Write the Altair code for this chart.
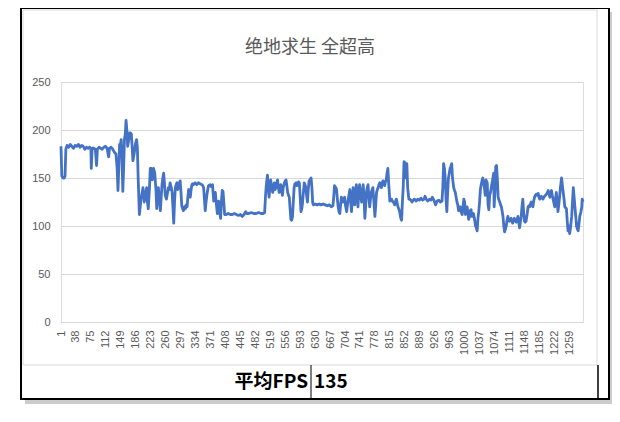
import altair as alt
import pandas as pd

title_text = "绝地求生 全超高"
table_label = "平均FPS"
table_value = "135"

y_ticks = [0, 50, 100, 150, 200, 250]
x_tick_labels = [1, 38, 75, 112, 149, 186, 223, 260, 297, 334, 371, 408, 445, 482,
                 519, 556, 593, 630, 667, 704, 741, 778, 815, 852, 889, 926, 963,
                 1000, 1037, 1074, 1111, 1148, 1185, 1222, 1259]

frames_a = [1, 3, 6, 9, 11, 13, 16, 20, 24, 28, 32, 36, 40, 44, 48, 52, 56, 60, 64, 68,
            72, 75, 76, 78, 82, 86, 89, 91, 95, 99, 103, 107, 111, 115, 119, 121, 125,
            129, 133, 137, 140, 142, 144, 146, 148, 150, 152, 154, 156, 158, 160, 162,
            164, 166, 168, 171, 173, 175, 177, 179, 182, 185, 188, 190, 192, 195, 197,
            199, 202, 204, 207, 210, 213, 215, 217, 220, 222, 224, 227, 230, 233, 236,
            238, 240, 242, 245, 247, 249, 251, 253, 255, 257, 259, 262, 264, 267, 269,
            271, 274, 276, 278, 280, 282, 284, 286, 288, 290, 292, 294, 296, 298, 300,
            302, 304, 307, 309, 311, 313, 315, 317, 319, 321, 323, 325, 327, 329, 333,
            337, 341, 345, 350, 352, 354, 356, 358, 360, 363, 366, 370, 373, 376, 378,
            379, 381, 383, 385, 388, 390, 391, 394, 396, 398, 400, 402, 404, 406, 410]
fps_a = [183, 152, 150, 150, 152, 180, 184, 182, 185, 183, 181, 184, 183, 185, 182, 184,
         183, 180, 182, 181, 182, 180, 160, 181, 181, 180, 163, 180, 182, 181, 180, 182,
         183, 181, 172, 181, 182, 180, 177, 175, 160, 137, 160, 185, 185, 190, 170, 136,
         160, 190, 195, 210, 200, 183, 188, 197, 197, 196, 183, 168, 175, 185, 190, 182,
         150, 112, 120, 128, 135, 140, 125, 132, 140, 125, 118, 140, 160, 160, 148, 160,
         155, 138, 118, 130, 140, 125, 116, 130, 143, 150, 155, 145, 132, 128, 133, 140,
         138, 145, 140, 135, 120, 103, 125, 140, 143, 145, 138, 140, 145, 147, 135, 121,
         118, 116, 120, 118, 122, 120, 130, 138, 133, 130, 138, 143, 144, 143, 145, 143,
         145, 144, 143, 142, 140, 128, 116, 125, 135, 142, 143, 141, 143, 132, 126, 130,
         135, 125, 113, 122, 126, 115, 108, 125, 137, 136, 125, 112, 112]

frames_b = [415, 420, 425, 430, 435, 440, 445, 450, 454, 458, 461, 466, 472, 478, 484,
            490, 496, 502, 505, 507, 509, 512, 514, 516, 518, 520, 522, 525, 527, 529,
            531, 533, 535, 537, 539, 541, 543, 545, 547, 549, 551, 554, 556, 558, 560,
            562, 564, 566, 568, 570, 572, 574, 576, 578, 580, 583, 585, 587, 589, 591,
            593, 595, 597, 599, 601, 603, 605, 607, 609, 611, 613, 615, 617, 620, 622,
            624, 626, 630, 635, 640, 645, 650, 655, 660, 665, 670, 674, 676, 678, 681,
            683, 685, 687, 689, 691, 693, 695, 697, 699, 701, 703, 705, 708, 710, 712,
            714, 716, 718, 720, 722, 724, 726, 728, 730, 732, 734, 736, 738, 740, 742,
            745, 747, 749, 751, 753, 755, 757, 759, 761, 763, 765, 767, 769, 771, 773,
            775, 778, 780, 782, 784, 786, 788, 790, 792, 794, 796, 798, 800, 802, 804,
            806, 808, 810, 812, 815, 817, 819, 821, 823, 825, 827, 829, 831, 833, 835,
            837, 839, 842, 844, 846, 848, 850, 852, 855, 857, 859, 862, 864]
fps_b = [113, 112, 112, 113, 112, 111, 112, 110, 112, 115, 113, 113, 114, 113, 113,
         114, 113, 113, 114, 130, 142, 153, 140, 130, 140, 148, 142, 135, 140, 145,
         138, 140, 145, 148, 140, 135, 140, 143, 137, 132, 140, 145, 147, 148, 142,
         135, 132, 130, 118, 107, 106, 110, 125, 140, 144, 145, 142, 143, 146, 145,
         130, 115, 118, 125, 135, 145, 143, 140, 132, 125, 138, 147, 148, 150, 140,
         124, 122, 123, 122, 123, 122, 123, 122, 121, 122, 120, 121, 130, 142, 140,
         138, 128, 120, 115, 113, 122, 130, 128, 125, 128, 130, 122, 115, 122, 128,
         133, 138, 125, 115, 128, 140, 132, 122, 135, 143, 132, 120, 133, 143, 135,
         125, 135, 143, 130, 108, 120, 135, 140, 143, 130, 120, 128, 135, 138, 140,
         128, 110, 122, 135, 138, 140, 143, 145, 143, 140, 145, 147, 145, 142, 146,
         148, 155, 160, 145, 126, 128, 128, 126, 125, 124, 122, 126, 128, 124, 120,
         118, 115, 108, 106, 125, 140, 167, 166, 150, 165, 140, 128, 128]

frames_c = [867, 870, 873, 876, 880, 884, 888, 892, 896, 900, 902, 905, 909, 913, 917,
            920, 924, 928, 932, 936, 940, 944, 946, 948, 950, 952, 954, 956, 958, 960,
            962, 964, 966, 968, 970, 973, 975, 977, 979, 981, 983, 985, 987, 989, 991,
            994, 996, 998, 1000, 1002, 1004, 1006, 1008, 1010, 1012, 1014, 1016, 1018,
            1020, 1022, 1025, 1027, 1029, 1031, 1033, 1035, 1037, 1039, 1041, 1043,
            1045, 1047, 1049, 1051, 1053, 1056, 1058, 1060, 1062, 1064, 1066, 1068,
            1070, 1072, 1073, 1075, 1077, 1079, 1081, 1083, 1085, 1087, 1089, 1091,
            1093, 1095, 1097, 1099, 1101, 1103, 1105, 1107, 1109, 1111, 1113, 1115,
            1117, 1119, 1121, 1123, 1125, 1128, 1130, 1132, 1134, 1136, 1138, 1140,
            1142, 1144, 1146, 1148, 1150, 1152, 1155, 1157, 1159, 1161, 1163, 1165,
            1167, 1169, 1171, 1173, 1175, 1177, 1180, 1182, 1184, 1186, 1188, 1190,
            1192, 1194, 1196, 1198, 1200, 1202, 1205, 1207, 1209, 1211, 1213, 1215,
            1217, 1219, 1221, 1223, 1225, 1227, 1229, 1231, 1233, 1235, 1237, 1240,
            1242, 1244, 1246, 1248, 1250, 1252, 1254, 1256, 1258, 1260, 1262, 1265,
            1267, 1269, 1271, 1273, 1275, 1277, 1279, 1281, 1283, 1285, 1288, 1290,
            1291, 1293]
fps_c = [127, 125, 127, 128, 126, 128, 127, 129, 127, 128, 131, 128, 126, 128, 127,
         130, 127, 122, 126, 127, 125, 126, 140, 165, 160, 150, 128, 115, 135, 150,
         155, 160, 162, 165, 150, 140, 137, 135, 130, 125, 122, 116, 118, 120, 115,
         112, 120, 128, 125, 112, 115, 120, 115, 107, 110, 116, 117, 110,
         110, 113, 106, 100, 98, 95, 108, 115, 125, 138, 143, 147,
         150, 145, 140, 132, 148, 145, 122, 117, 132, 135, 140, 145,
         150, 155, 120, 135, 162, 163, 150, 130, 127, 125, 122, 120,
         115, 110, 100, 94, 97, 100, 106, 110, 107, 105, 107, 108,
         105, 103, 106, 108, 106, 104, 107, 110, 104, 98, 104, 110,
         120, 128, 115, 105, 104, 105, 113, 120, 121, 120, 123, 125,
         122, 120, 126, 130, 132, 133, 132, 134, 130, 128, 130, 131,
         129, 128, 130, 131, 132, 133, 135, 137, 133, 130, 134, 137,
         132, 128, 124, 120, 128, 135, 125, 115, 122, 130, 140, 150,
         142, 135, 128, 120, 119, 118, 105, 95, 100, 92, 98, 110,
         125, 140, 130, 120, 110, 100, 97, 95, 102, 110, 115, 120,
         128, 125]

frames = frames_a + frames_b + frames_c
fps = fps_a + fps_b + fps_c
df = pd.DataFrame({"frame": frames, "fps": fps})

W, H = 522, 240
one = pd.DataFrame({"k": [0]})

line = alt.Chart(df).mark_line(color="#4472C4", strokeWidth=2.8, strokeJoin="round").encode(
    x=alt.X("frame:Q",
            scale=alt.Scale(domain=[1, 1293], nice=False, zero=False),
            axis=alt.Axis(values=x_tick_labels, format="d", labelAngle=270, grid=False,
                          ticks=False, domain=False, labelColor="#595959", labelFontSize=11,
                          labelFont="Liberation Sans", labelPadding=8, labelFlush=False,
                          labelOverlap=False, labelBound=False, title=None)),
    y=alt.Y("fps:Q",
            scale=alt.Scale(domain=[0, 250], nice=False),
            axis=alt.Axis(values=y_ticks, grid=True, gridColor="#d9d9d9", ticks=False,
                          domain=False, labelColor="#595959", labelFontSize=11,
                          labelFont="Liberation Sans", labelPadding=11, title=None)),
)

# shadow strips
shadow_r = alt.Chart(one).mark_rect(fill="#cccccc").encode(
    x=alt.value(549), x2=alt.value(554), y=alt.value(-70), y2=alt.value(322))
shadow_b = alt.Chart(one).mark_rect(fill="#cccccc").encode(
    x=alt.value(-36), x2=alt.value(554), y=alt.value(318), y2=alt.value(322))
# outer frame
frame = alt.Chart(one).mark_rect(fillOpacity=0, stroke="black", strokeWidth=2).encode(
    x=alt.value(-40), x2=alt.value(548), y=alt.value(-74), y2=alt.value(317))
# chart-area border
inner = alt.Chart(one).mark_rect(fillOpacity=0, stroke="#d9d9d9", strokeWidth=1).encode(
    x=alt.value(-38), x2=alt.value(536), y=alt.value(-72), y2=alt.value(283))
divider = alt.Chart(one).mark_rule(color="black", strokeWidth=1).encode(
    x=alt.value(250), y=alt.value(283), y2=alt.value(316))
right_edge = alt.Chart(one).mark_rule(color="black", strokeWidth=1.5).encode(
    x=alt.value(537), y=alt.value(283), y2=alt.value(316))

title = alt.Chart(pd.DataFrame({"t": [title_text]})).mark_text(
    align="center", baseline="middle", fontSize=18, fontWeight="normal",
    font="Noto Sans CJK SC", color="#595959").encode(
    x=alt.value(249), y=alt.value(-34), text="t:N")
lbl = alt.Chart(pd.DataFrame({"t": [table_label]})).mark_text(
    align="right", baseline="middle", fontSize=19, fontWeight="bold",
    font="Noto Sans CJK SC", color="black").encode(
    x=alt.value(247), y=alt.value(300), text="t:N")
val = alt.Chart(pd.DataFrame({"t": [table_value]})).mark_text(
    align="left", baseline="middle", fontSize=19, fontWeight="bold",
    font="Noto Sans CJK SC", color="black").encode(
    x=alt.value(253), y=alt.value(300), text="t:N")

chart = alt.layer(shadow_r, shadow_b, frame, inner, divider, right_edge, line,
                  title, lbl, val).properties(
    width=W, height=H,
    autosize=alt.AutoSizeParams(type="none"),
    padding={"left": 53, "top": 74, "right": 29, "bottom": 92},
).configure_view(stroke=None).configure(background="white")

chart.save("out.html", embed_options={"renderer": "svg", "actions": False})
